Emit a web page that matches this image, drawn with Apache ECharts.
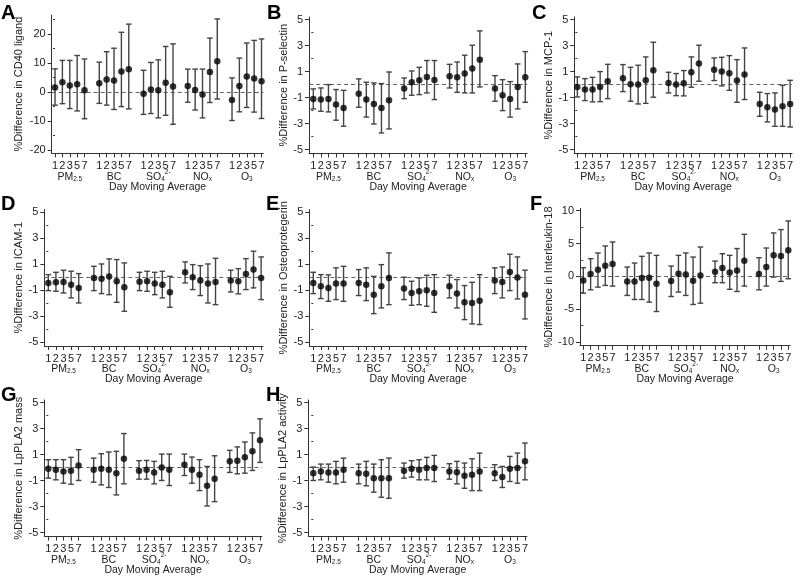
<!DOCTYPE html>
<html>
<head>
<meta charset="utf-8">
<script src="https://cdn.jsdelivr.net/npm/echarts@6/dist/echarts.min.js"></script>
<style>html,body{margin:0;padding:0;background:#fff}#c{width:800px;height:580px}</style>
</head>
<body>
<div id="c"></div>
<script>
// ---------- DATA ----------
const days = ['1', '2', '3', '5', '7'];
const pollutants = ['PM2.5', 'BC', 'SO42-', 'NOx', 'O3'];
const groupBase = ['PM', 'BC', 'SO', 'NO', 'O'];
const groupSub = ['2.5', '', '4', 'x', '3'];
const groupSup = ['', '', '2-', '', ''];

const panelLetters = ['A', 'B', 'C', 'D', 'E', 'F', 'G', 'H'];
const panelNames = [
  '%Difference in CD40 ligand', '%Difference in P-selectin', '%Difference in MCP-1',
  '%Difference in ICAM-1', '%Difference in Osteoprotegerin', '%Difference in Interleukin-18',
  '%Difference in LpPLA2 mass', '%Difference in LpPLA2 activity'
];
const ticksWide = [-20, -10, 0, 10, 20];
const minorWide = [-15, -5, 5, 15, 25];
const ticksNarrow = [-5, -3, -1, 1, 3, 5];
const minorNarrow = [-4, -2, 0, 2, 4];
const ticksMid = [-10, -5, 0, 5, 10];
const minorMid = [-7.5, -2.5, 2.5, 7.5];

// A: CD40 ligand
const cd40Est = [1.6,3.4,2.3,2.7,0.6, 3.0,4.3,4.0,7.1,7.9, -0.6,0.9,0.6,3.2,1.9, 2.1,0.7,-0.8,6.9,10.6, -2.7,2.1,5.4,4.7,3.7];
const cd40Lo  = [-4.5,-4.0,-5.7,-6.5,-9.2, -3.9,-4.5,-6.0,-5.0,-5.8, -7.7,-7.4,-8.9,-8.0,-11.1, -3.5,-6.2,-8.9,-3.6,-2.4, -9.8,-6.8,-5.3,-6.9,-9.1];
const cd40Hi  = [8.0,10.9,10.9,12.6,11.4, 10.3,13.9,15.1,20.6,23.4, 7.5,10.2,11.1,15.7,16.6, 7.9,7.9,7.9,18.6,25.2, 4.9,11.7,16.9,17.8,18.3];
// B: P-selectin
const pselEst = [-1.1,-1.15,-1.1,-1.54,-1.8, -0.7,-1.15,-1.5,-1.8,-1.2, -0.3,0.18,0.33,0.59,0.36, 0.64,0.56,0.85,1.23,1.92, -0.3,-0.82,-1.1,-0.18,0.56];
const pselLo  = [-1.87,-2.05,-2.1,-2.74,-3.2, -1.74,-2.5,-3.03,-3.72,-3.41, -1.08,-0.82,-0.77,-0.64,-1.15, -0.26,-0.59,-0.64,-0.64,-0.18, -1.28,-2.0,-2.5,-1.87,-1.36];
const pselHi  = [-0.33,-0.26,0,-0.38,-0.44, 0.44,0.18,0.13,0.08,0.97, 0.51,1.05,1.33,1.85,1.85, 1.56,1.74,2.26,3.03,4.13, 0.69,0.38,0.23,1.59,2.54];
// C: MCP-1
const mcpEst = [-0.18,-0.38,-0.38,-0.18,0.26, 0.49,0.03,0,0.33,1.1, 0.13,0,0.1,0.95,1.62, 1.15,1.0,0.87,0.31,0.77, -1.49,-1.74,-1.92,-1.67,-1.49];
const mcpLo  = [-0.95,-1.23,-1.33,-1.31,-1.08, -0.54,-1.28,-1.49,-1.44,-0.97, -0.64,-0.85,-0.87,-0.2,0.26, 0.31,-0.1,-0.44,-1.36,-1.15, -2.44,-2.87,-3.21,-3.21,-3.26];
const mcpHi  = [0.59,0.46,0.56,1.0,1.56, 1.54,1.33,1.49,2.13,3.26, 0.95,0.85,1.08,2.13,3.03, 2.05,2.1,2.23,1.92,2.82, -0.59,-0.69,-0.64,-0.05,0.33];
// D: ICAM-1
const icamEst = [-0.45,-0.4,-0.37,-0.58,-0.83, -0.06,-0.12,0.04,-0.32,-0.78, -0.35,-0.32,-0.5,-0.58,-1.17, 0.37,-0.01,-0.27,-0.5,-0.37, -0.27,-0.32,0.24,0.58,-0.06];
const icamLo  = [-1.04,-1.09,-1.22,-1.6,-1.99, -1.04,-1.27,-1.35,-1.94,-2.63, -1.04,-1.09,-1.35,-1.6,-2.32, -0.45,-0.96,-1.42,-1.99,-2.12, -1.14,-1.29,-0.96,-0.83,-1.73];
const icamHi  = [0.19,0.37,0.53,0.45,0.27, 0.83,1.01,1.4,1.35,1.09, 0.37,0.45,0.37,0.45,0.06, 1.17,0.96,0.88,1.01,1.45, 0.53,0.65,1.42,1.99,1.55];
// E: Osteoprotegerin
const opgEst = [-0.45,-0.71,-0.83,-0.5,-0.5, -0.45,-0.58,-1.35,-0.71,-0.06, -0.88,-1.22,-1.09,-1.01,-1.22, -0.71,-1.27,-1.94,-1.99,-1.81, -0.27,-0.37,0.4,-0.04,-1.35];
const opgLo  = [-1.27,-1.65,-1.86,-1.73,-1.86, -1.42,-1.81,-2.81,-2.37,-2.12, -1.73,-2.17,-2.12,-2.24,-2.71, -1.6,-2.37,-3.27,-3.6,-3.65, -1.27,-1.6,-1.04,-1.68,-3.22];
const opgHi  = [0.37,0.19,0.17,0.71,0.83, 0.58,0.71,0.06,0.96,1.86, -0.01,-0.32,-0.06,0.14,0.19, 0.14,-0.19,-0.65,-0.4,0.19, 0.71,0.78,1.76,1.55,0.53];
// F: Interleukin-18
const il18Est = [-0.64,0.33,1.0,1.61,1.86, -0.79,-0.79,-0.28,-0.23,-1.15, -0.74,0.38,0.28,-0.69,0.13, 0.69,1.25,0.59,0.89,2.37, 0.33,1.4,3.19,3.09,3.95];
const il18Lo  = [-2.58,-2.07,-1.66,-1.4,-1.5, -2.93,-3.55,-3.55,-3.95,-5.38, -3.09,-2.42,-2.93,-4.31,-4.11, -0.99,-0.99,-1.99,-2.32,-1.5, -2.07,-1.5,-0.13,-0.79,-0.38];
const il18Hi  = [1.3,2.68,3.55,4.62,5.23, 1.4,2.02,3.04,3.55,3.19, 1.56,3.19,3.55,2.93,4.46, 2.32,3.44,3.19,4.23,6.4, 2.83,4.31,6.61,7.12,8.44];
// G: LpPLA2 mass
const lpmEst = [-0.09,-0.17,-0.3,-0.24,0.17, -0.17,-0.09,-0.17,-0.43,0.68, -0.24,-0.17,-0.37,0.01,-0.17, 0.22,-0.17,-0.55,-1.4,-0.86, 0.48,0.53,0.79,1.25,2.1];
const lpmLo  = [-0.81,-0.94,-1.2,-1.28,-0.99, -1.12,-1.33,-1.53,-2.1,-1.25, -0.89,-0.89,-1.25,-0.99,-1.38, -0.61,-1.2,-1.77,-2.95,-2.62, -0.37,-0.48,-0.43,-0.22,0.4];
const lpmHi  = [0.61,0.61,0.61,0.79,1.38, 0.73,1.07,1.2,1.25,2.62, 0.53,0.55,0.48,1.04,1.04, 1.04,0.81,0.61,0.09,0.91, 1.33,1.59,1.97,2.67,3.75];
// H: LpPLA2 activity
const lpaEst = [-0.43,-0.3,-0.37,-0.37,-0.17, -0.43,-0.48,-0.81,-0.81,-0.81, -0.24,-0.09,-0.17,-0.04,-0.04, -0.3,-0.35,-0.63,-0.55,-0.3, -0.43,-0.73,-0.09,-0.04,0.48];
const lpaLo  = [-0.99,-0.94,-1.12,-1.25,-1.12, -1.25,-1.4,-1.89,-2.28,-2.36, -0.81,-0.73,-0.94,-0.94,-1.07, -0.89,-1.25,-1.59,-1.77,-1.77, -0.99,-1.53,-1.07,-1.2,-0.94];
const lpaHi  = [0.04,0.27,0.27,0.48,0.73, 0.27,0.48,0.27,0.61,0.73, 0.35,0.53,0.61,0.79,0.94, 0.3,0.48,0.35,0.68,1.12, 0.22,0.09,0.86,1.12,1.89];

// ---------- LAYOUT ----------
const FONT = '"Liberation Sans", Arial, sans-serif';
const TXT = '#222';
const AX = '#333';
const layout = [
  {left: 51.7, slotW: 7.375, xmin: -0.45, top: 15,    h: 138.3, ymin: -21.1, ymax: 26.55, gap: 27, lx: 1,   ly: 3},
  {left: 309,  slotW: 7.57,  xmin: -0.57, top: 17,    h: 136.5, ymin: -5.3,  ymax: 5.2,   gap: 19, lx: 267, ly: 3},
  {left: 574.3,slotW: 7.6,   xmin: -0.4,  top: 17,    h: 136.5, ymin: -5.3,  ymax: 5.2,   gap: 19, lx: 532, ly: 3},
  {left: 44.3, slotW: 7.6,   xmin: -0.53, top: 209.5, h: 136.5, ymin: -5.3,  ymax: 5.2,   gap: 19, lx: 1,   ly: 194},
  {left: 309.3,slotW: 7.56,  xmin: -0.53, top: 209.5, h: 136.5, ymin: -5.3,  ymax: 5.2,   gap: 19, lx: 266, ly: 194},
  {left: 580,  slotW: 7.32,  xmin: -0.45, top: 208.3, h: 137.4, ymin: -10.6, ymax: 10.37, gap: 23, lx: 530, ly: 194},
  {left: 44.3, slotW: 7.56,  xmin: -0.53, top: 400,   h: 136.5, ymin: -5.3,  ymax: 5.2,   gap: 19, lx: 1,   ly: 385},
  {left: 308.3,slotW: 7.56,  xmin: -0.66, top: 400,   h: 136.5, ymin: -5.3,  ymax: 5.2,   gap: 19, lx: 266, ly: 385}
];
const XMAX = 28.25;

const panelData = [
  [cd40Est, cd40Lo, cd40Hi], [pselEst, pselLo, pselHi], [mcpEst, mcpLo, mcpHi],
  [icamEst, icamLo, icamHi], [opgEst, opgLo, opgHi], [il18Est, il18Lo, il18Hi],
  [lpmEst, lpmLo, lpmHi], [lpaEst, lpaLo, lpaHi]
];
const panelTicks = [ticksWide, ticksNarrow, ticksNarrow, ticksNarrow, ticksNarrow, ticksMid, ticksNarrow, ticksNarrow];
const panelMinor = [minorWide, minorNarrow, minorNarrow, minorNarrow, minorNarrow, minorMid, minorNarrow, minorNarrow];

// slot index along x: group g, day d -> g*6 + d
const slots = [];
pollutants.forEach((p, g) => days.forEach((d, i) => slots.push(g * 6 + i)));
const groupCenters = pollutants.map((p, g) => g * 6 + 2);

const grids = [], xAxes = [], yAxes = [], series = [], graphics = [];

layout.forEach((L, k) => {
  const w = (XMAX - L.xmin) * L.slotW;
  grids.push({left: L.left, top: L.top, width: w, height: L.h, containLabel: false});
  xAxes.push({
    type: 'value', gridIndex: k, min: L.xmin, max: XMAX, position: 'bottom',
    axisLine: {show: true, onZero: false, lineStyle: {color: AX, width: 1}},
    axisTick: {show: true, customValues: slots, length: 4, lineStyle: {color: AX}},
    axisLabel: {show: true, customValues: slots, formatter: v => days[Math.round(v) % 6],
      fontSize: 11, fontFamily: FONT, color: TXT, margin: 7},
    splitLine: {show: false},
    name: 'Day Moving Average', nameLocation: 'middle', nameGap: 28,
    nameTextStyle: {fontSize: 10.5, fontFamily: FONT, color: TXT}
  });
  xAxes.push({
    type: 'value', gridIndex: k, min: L.xmin, max: XMAX, position: 'bottom',
    axisLine: {show: false}, axisTick: {show: false}, splitLine: {show: false},
    axisLabel: {
      show: true, customValues: groupCenters, margin: 15,
      formatter: v => {
        const g = Math.round((v - 2) / 6);
        let s = '{n|' + groupBase[g] + '}';
        if (groupSub[g]) s += '{s|' + groupSub[g] + '}';
        if (groupSup[g]) s += '{p|' + groupSup[g] + '}';
        return s;
      },
      rich: {
        n: {fontSize: 10.5, fontFamily: FONT, color: TXT, lineHeight: 14, verticalAlign: 'bottom'},
        s: {fontSize: 6.5, fontFamily: FONT, color: TXT, lineHeight: 8, verticalAlign: 'bottom'},
        p: {fontSize: 6.5, fontFamily: FONT, color: TXT, lineHeight: 8, verticalAlign: 'top'}
      }
    }
  });
  yAxes.push({
    type: 'value', gridIndex: k, min: L.ymin, max: L.ymax,
    axisLine: {show: true, onZero: false, lineStyle: {color: AX, width: 1}},
    axisTick: {show: true, customValues: panelTicks[k], length: 4, lineStyle: {color: AX}},
    axisLabel: {show: true, customValues: panelTicks[k], fontSize: 11, fontFamily: FONT, color: TXT, margin: 6},
    splitLine: {show: false},
    name: panelNames[k], nameLocation: 'middle', nameGap: L.gap,
    nameTextStyle: {fontSize: 11, fontFamily: FONT, color: TXT}
  });
  yAxes.push({
    type: 'value', gridIndex: k, min: L.ymin, max: L.ymax, position: 'left',
    axisLine: {show: false},
    axisTick: {show: true, customValues: panelMinor[k], length: 2, lineStyle: {color: AX}},
    axisLabel: {show: false}, splitLine: {show: false}
  });

  const [est, lo, hi] = panelData[k];
  series.push({
    type: 'custom', xAxisIndex: 2 * k, yAxisIndex: 2 * k, z: 3,
    data: slots.map((s, i) => [s, lo[i], hi[i]]),
    renderItem: (params, api) => {
      const x = api.value(0);
      const a = api.coord([x, api.value(1)]);
      const b = api.coord([x, api.value(2)]);
      const cw = 2.8;
      const st = {stroke: '#444', lineWidth: 1.4};
      return {type: 'group', children: [
        {type: 'line', shape: {x1: a[0], y1: a[1], x2: b[0], y2: b[1]}, style: st},
        {type: 'line', shape: {x1: a[0] - cw, y1: a[1], x2: a[0] + cw, y2: a[1]}, style: st},
        {type: 'line', shape: {x1: b[0] - cw, y1: b[1], x2: b[0] + cw, y2: b[1]}, style: st}
      ]};
    },
    markLine: {
      silent: true, symbol: 'none', label: {show: false}, z: 2,
      lineStyle: {type: [4, 3], color: '#666', width: 1.2},
      data: [{yAxis: 0}]
    },
    silent: true, animation: false
  });
  series.push({
    type: 'scatter', xAxisIndex: 2 * k, yAxisIndex: 2 * k, z: 4,
    symbol: 'circle', symbolSize: 6.5,
    itemStyle: {color: '#000'},
    data: slots.map((s, i) => [s, est[i]]),
    silent: true, animation: false
  });
  graphics.push({
    type: 'text', left: L.lx, top: L.ly,
    style: {text: panelLetters[k], font: 'bold 20px ' + FONT, fill: '#000'}
  });
});

const chart = echarts.init(document.getElementById('c'), null, {renderer: 'canvas'});
chart.setOption({
  animation: false,
  backgroundColor: '#fff',
  grid: grids, xAxis: xAxes, yAxis: yAxes, series: series, graphic: graphics
});
</script>
</body>
</html>
